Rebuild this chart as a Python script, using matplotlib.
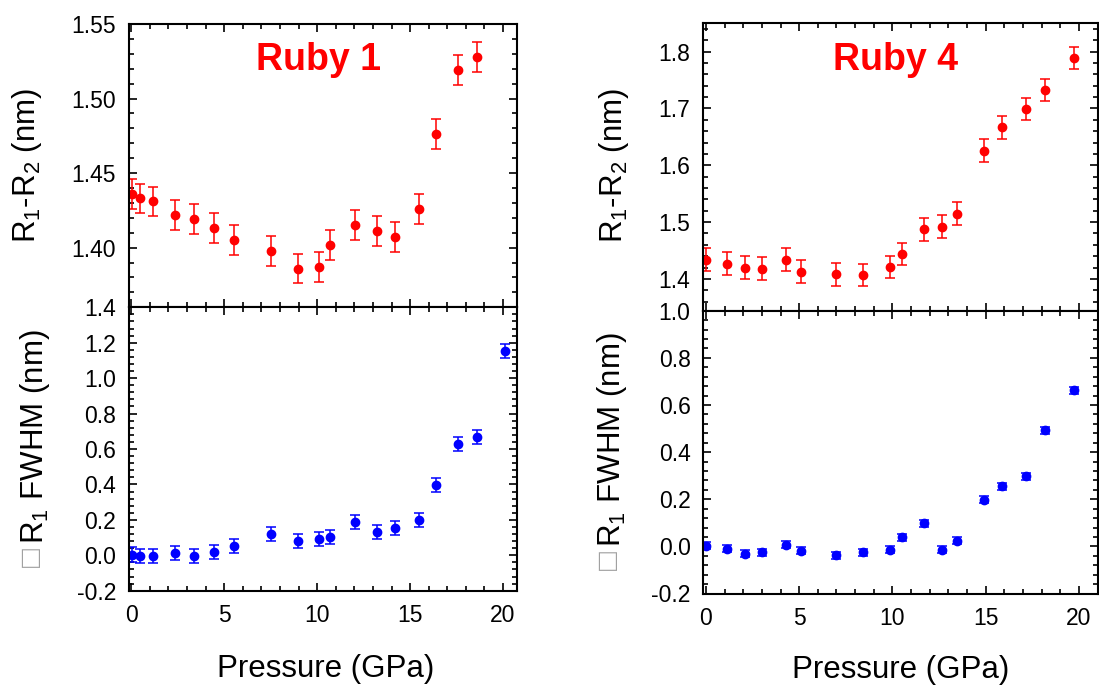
import matplotlib
matplotlib.use('Agg')
import matplotlib.pyplot as plt
from matplotlib.ticker import MultipleLocator, FormatStrFormatter

plt.rcParams['font.family'] = ['Liberation Sans', 'DejaVu Sans']
plt.rcParams['mathtext.fontset'] = 'custom'
plt.rcParams['mathtext.rm'] = 'Liberation Sans'
plt.rcParams['mathtext.it'] = 'Liberation Sans:italic'
plt.rcParams['axes.unicode_minus'] = False

# Ruby 1 : pressure (GPa), R1-R2 splitting and R1 broadening (nm)
P1 = [0.04, 0.45, 1.18, 2.37, 3.35, 4.44, 5.53, 7.50, 8.95, 10.08, 10.68,
      12.04, 13.20, 14.16, 15.46, 16.40, 17.60, 18.58, 20.09]
Split1 = [1.436, 1.433, 1.431, 1.422, 1.419, 1.413, 1.405, 1.398, 1.386, 1.387,
          1.402, 1.415, 1.411, 1.407, 1.426, 1.476, 1.519, 1.528]
FWHM1 = [0.004, -0.003, -0.006, 0.011, -0.006, 0.019, 0.051, 0.118, 0.079, 0.090,
         0.105, 0.190, 0.133, 0.152, 0.197, 0.398, 0.627, 0.670, 1.153]
Split1Err = 0.01
FWHM1Err = 0.04

# Ruby 4
P4 = [0.0, 1.11, 2.09, 3.0, 4.31, 5.11, 6.96, 8.44, 9.89, 10.5, 11.69,
      12.67, 13.46, 14.91, 15.89, 17.15, 18.18, 19.72]
Split4 = [1.434, 1.427, 1.420, 1.418, 1.434, 1.413, 1.408, 1.407, 1.421, 1.444,
          1.4875, 1.492, 1.515, 1.626, 1.667, 1.699, 1.7325, 1.789]
FWHM4 = [0.003, -0.011, -0.032, -0.025, 0.007, -0.018, -0.037, -0.025, -0.014, 0.038,
         0.099, -0.015, 0.024, 0.197, 0.256, 0.297, 0.493, 0.662]
Split4Err = 0.02
FWHM4Err = 0.015

W = 1099
H = 686

fig = plt.figure(figsize=(W/100., H/100.), dpi=100)

def PixelAxes(x0, x1, ytop, ybot):
	return fig.add_axes([x0/W, 1 - ybot/H, (x1 - x0)/W, (ybot - ytop)/H])

def StyleAxes(ax, xlim, ylim, ymaj, ymin, fmt, xlabels):
	ax.set_xlim(xlim)
	ax.set_ylim(ylim)
	ax.xaxis.set_major_locator(MultipleLocator(5))
	ax.xaxis.set_minor_locator(MultipleLocator(1))
	ax.yaxis.set_major_locator(MultipleLocator(ymaj))
	ax.yaxis.set_minor_locator(MultipleLocator(ymin))
	ax.yaxis.set_major_formatter(FormatStrFormatter(fmt))
	ax.tick_params(which='both', direction='in', top=True, right=True, width=1.2, labelsize=16.5)
	ax.tick_params(which='major', length=6)
	ax.tick_params(which='minor', length=3.5)
	ax.tick_params(axis='y', pad=9)
	ax.tick_params(axis='x', pad=9.5, labelbottom=xlabels)
	for s in ax.spines.values():
		s.set_linewidth(1.5)

def Points(ax, x, y, err, col):
	ax.errorbar(x, y, yerr=err, fmt='o', color=col, mec=col, ms=6,
	            capsize=3.5, elinewidth=1.1, capthick=1.1)

def PixelText(x, y, s, **kw):
	fig.text(x/W, 1 - y/H, s, **kw)

# left column : Ruby 1
ax1 = PixelAxes(128.5, 517, 24, 307.3)
ax2 = PixelAxes(128.5, 517, 307.3, 590.7)
Points(ax1, P1[:len(Split1)], Split1, Split1Err, 'red')
Points(ax2, P1, FWHM1, FWHM1Err, 'blue')
StyleAxes(ax1, (-0.15, 20.75), (1.36, 1.55), 0.05, 0.01, '%.2f', False)
StyleAxes(ax2, (-0.15, 20.75), (-0.2, 1.4), 0.2, 0.04, '%.1f', True)
ax1.text(0.490, 0.8376, 'Ruby 1', transform=ax1.transAxes, ha='center', va='baseline',
         color='red', fontsize=27, fontweight='bold')

# right column : Ruby 4
ax3 = PixelAxes(703, 1097.5, 23.3, 310.7)
ax4 = PixelAxes(703, 1097.5, 310.7, 593.5)
Points(ax3, P4, Split4, Split4Err, 'red')
Points(ax4, P4, FWHM4, FWHM4Err, 'blue')
StyleAxes(ax3, (-0.16, 21.0), (1.344, 1.85), 0.1, 0.02, '%.1f', False)
StyleAxes(ax4, (-0.16, 21.0), (-0.2, 1.0), 0.2, 0.04, '%.1f', True)
ax3.text(0.4885, 0.8375, 'Ruby 4', transform=ax3.transAxes, ha='center', va='baseline',
         color='red', fontsize=27, fontweight='bold')

# axis labels
lab = dict(fontsize=22.5, rotation=90, rotation_mode='anchor')
PixelText(35.5, 165, 'R$_1$-R$_2$ (nm)', ha='center', va='baseline', **lab)
PixelText(622, 165, 'R$_1$-R$_2$ (nm)', ha='center', va='baseline', **lab)
PixelText(43.5, 544, 'R$_1$ FWHM (nm)', ha='left', va='baseline', **lab)
PixelText(41, 567, '\u25a1', ha='left', va='baseline', color='#a0a0a0', **lab)
PixelText(620, 547, 'R$_1$ FWHM (nm)', ha='left', va='baseline', **lab)
PixelText(617.5, 570, '\u25a1', ha='left', va='baseline', color='#a0a0a0', **lab)

PixelText(325.5, 676.7, 'Pressure (GPa)', ha='center', va='baseline', fontsize=22.5)
PixelText(900.7, 678.3, 'Pressure (GPa)', ha='center', va='baseline', fontsize=22.5)

plt.savefig('out.png', dpi=100)
plt.close()
